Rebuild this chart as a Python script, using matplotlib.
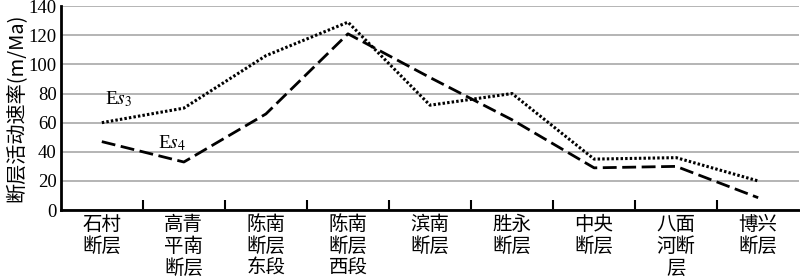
import matplotlib
matplotlib.use("Agg")
import matplotlib.pyplot as plt
import numpy as np

categories = ["石村\n断层", "高青\n平南\n断层", "陈南\n断层\n东段", "陈南\n断层\n西段", "滨南\n断层",
              "胜永\n断层", "中央\n断层", "八面\n河断\n层", "博兴\n断层"]
es3 = [60, 70, 106, 129, 72, 80, 35, 36, 20]
es4 = [47, 33, 66, 121, 91, 62, 29, 30, 8.5]
yticks = [0, 20, 40, 60, 80, 100, 120, 140]

plt.rcParams['font.family'] = ['Liberation Serif', 'Noto Sans CJK SC']
plt.rcParams['mathtext.fontset'] = 'stix'

fig = plt.figure(figsize=(8, 2.79), dpi=100)
ax = fig.add_axes([0.076, 0.247, 0.923, 0.731])

x = np.arange(len(categories))
ax.plot(x, es3, color='black', linestyle=(0, (0.8, 0.7)), linewidth=2.2)
ax.plot(x, es4, color='black', linestyle=(0, (5, 2)), linewidth=2.0)

ax.set_xlim(-0.5, len(categories) - 0.5)
ax.set_ylim(0, 140)
ax.set_yticks(yticks)
ax.set_yticklabels([str(v) for v in yticks], fontsize=13.5, family='Liberation Serif')
ax.yaxis.grid(True, color='#a8a8a8', linewidth=1.2)
ax.set_axisbelow(True)

ax.set_xticks(x)
ax.set_xticklabels(categories, fontsize=14, family='Noto Sans CJK SC', linespacing=1.05, va='top')
ax.tick_params(axis='x', which='major', length=0, pad=3)
ax.set_xticks(np.arange(0.5, len(categories) - 0.5, 1), minor=True)
ax.tick_params(axis='x', which='minor', direction='in', length=7, width=1.5)
ax.tick_params(axis='y', length=0, pad=3)

for s in ['top', 'right']:
    ax.spines[s].set_visible(False)
for s in ['left', 'bottom']:
    ax.spines[s].set_linewidth(2)

ax.set_ylabel("断层活动速率(m/Ma)", fontsize=14.5, family=['Noto Sans CJK SC', 'Liberation Serif'], labelpad=1)

ax.text(0.2, 76, r"E$\mathit{s}_3$", fontsize=14, ha='center', va='center')
ax.text(0.85, 46, r"E$\mathit{s}_4$", fontsize=14, ha='center', va='center')

fig.savefig("out.png", dpi=100)
